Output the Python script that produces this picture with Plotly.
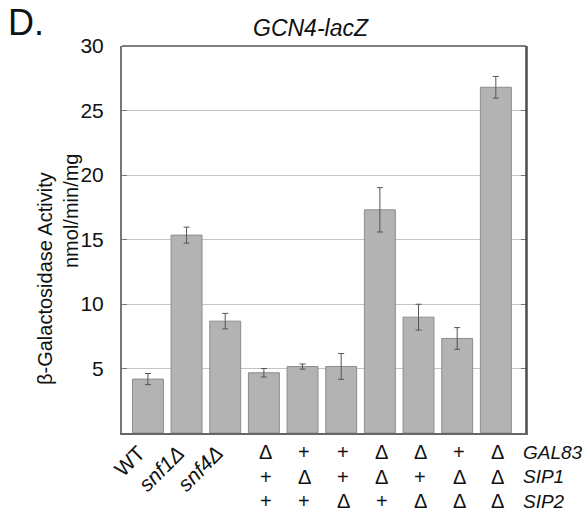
import plotly.graph_objects as go

categories = ["WT", "snf1Δ", "snf4Δ", "c4", "c5", "c6", "c7", "c8", "c9", "c10"]
values = [4.18, 15.34, 8.67, 4.67, 5.15, 5.16, 17.3, 8.98, 7.33, 26.8]
errors = [0.43, 0.62, 0.6, 0.33, 0.2, 1.0, 1.72, 1.0, 0.84, 0.84]
gal83 = ["", "", "", "Δ", "+", "+", "Δ", "Δ", "+", "Δ"]
sip1 = ["", "", "", "+", "Δ", "+", "Δ", "+", "Δ", "Δ"]
sip2 = ["", "", "", "+", "+", "Δ", "+", "Δ", "Δ", "Δ"]
row_names = ["GAL83", "SIP1", "SIP2"]
y_ticks = [5, 10, 15, 20, 25, 30]

W, H = 586, 512
L, R, T, B = 122, 526, 46, 433
pw, ph = R - L, B - T

def px(x):
    return (x - L) / pw

def py(y):
    return (B - y) / ph

x = list(range(len(categories)))
fig = go.Figure()
fig.add_trace(go.Bar(
    x=x, y=values, width=0.8,
    marker=dict(color="#b3b3b3", line=dict(color="#8c8c8c", width=1)),
    error_y=dict(type="data", array=errors, color="#555555", thickness=1, width=3),
    showlegend=False,
))

ann = []
rot_labels = ["WT", "<i>snf1Δ</i>", "<i>snf4Δ</i>"]
for i, t in enumerate(rot_labels):
    ann.append(dict(x=i + 0.12, xref="x", y=0, yref="paper", yshift=-5,
                    text=t, textangle=-45, showarrow=False,
                    xanchor="right", yanchor="top",
                    font=dict(size=21, color="#111")))
rows = [gal83, sip1, sip2]
row_y = [452, 477, 501]
for r, (row, yy) in enumerate(zip(rows, row_y)):
    for i, s in enumerate(row):
        if s:
            ann.append(dict(x=i + 0.05, xref="x", y=py(yy), yref="paper", text=s,
                            showarrow=False, xanchor="center", yanchor="middle",
                            font=dict(size=20, color="#111")))
    ann.append(dict(x=px(521), xref="paper", y=py(yy), yref="paper",
                    text="<i>" + row_names[r] + "</i>", showarrow=False,
                    xanchor="left", yanchor="middle",
                    font=dict(size=19, color="#111")))
ann.append(dict(x=px(311), xref="paper", y=py(28), yref="paper",
                text="<i>GCN4-lacZ</i>", showarrow=False,
                xanchor="center", yanchor="middle", font=dict(size=23, color="#111")))
ann.append(dict(x=px(6), xref="paper", y=py(23), yref="paper",
                text="D.", showarrow=False, xanchor="left", yanchor="middle",
                font=dict(size=36, color="#111")))
ann.append(dict(x=px(45), xref="paper", y=py(279), yref="paper",
                text="β-Galactosidase Activity", textangle=-90, showarrow=False,
                xanchor="center", yanchor="middle", font=dict(size=20, color="#111")))
ann.append(dict(x=px(71), xref="paper", y=py(211), yref="paper",
                text="nmol/min/mg", textangle=-90, showarrow=False,
                xanchor="center", yanchor="middle", font=dict(size=20, color="#111")))

fig.update_layout(
    width=W, height=H,
    margin=dict(l=L, r=W - R, t=T, b=H - B, autoexpand=False),
    plot_bgcolor="white", paper_bgcolor="white",
    font=dict(family="Liberation Sans, Arial, sans-serif", color="#111"),
    annotations=ann,
    shapes=[
        dict(type="line", xref="paper", yref="paper", x0=0, x1=1, y0=1, y1=1,
             line=dict(color="#555", width=1.5)),
        dict(type="line", xref="paper", yref="paper", x0=1, x1=1, y0=0, y1=1,
             line=dict(color="#444", width=1.5)),
    ],
)
fig.update_xaxes(range=[-0.67, 9.78], showticklabels=False, ticks="",
                 showgrid=False, zeroline=False, showline=True,
                 linecolor="#666", linewidth=2)
fig.update_yaxes(range=[0, 30], tickvals=y_ticks, ticktext=[str(v) for v in y_ticks],
                 ticks="inside", ticklen=5, tickcolor="#777", mirror="ticks",
                 showline=True, linecolor="#777", linewidth=2,
                 showgrid=True, gridcolor="#c4c4c4", gridwidth=1.2,
                 zeroline=False, ticklabelstandoff=12,
                 tickfont=dict(size=21, color="#111"))

fig.write_html("out.html", config={"displayModeBar": False},
               post_script="document.body.style.margin='0';")
